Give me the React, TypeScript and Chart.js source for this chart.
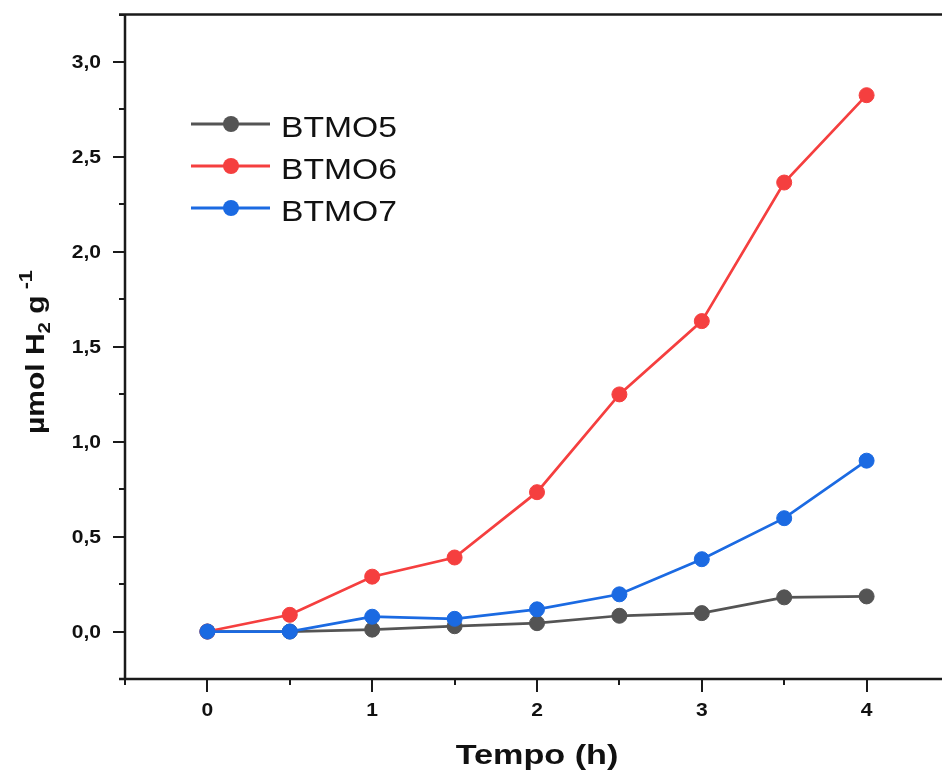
import React, { useEffect, useRef } from "react";
import { Chart, registerables } from "chart.js";

Chart.register(...registerables);

const timeH = [0, 0.5, 1, 1.5, 2, 2.5, 3, 3.5, 4];
const btmo5 = [0, 0, 0.01, 0.028, 0.044, 0.083, 0.097, 0.18, 0.185];
const btmo6 = [0, 0.088, 0.289, 0.39, 0.734, 1.249, 1.635, 2.365, 2.825];
const btmo7 = [0, 0, 0.078, 0.067, 0.117, 0.196, 0.381, 0.597, 0.9];
const seriesNames = ["BTMO5", "BTMO6", "BTMO7"];
const seriesColors = ["#545454", "#f53f3f", "#1b6ae2"];

const xMajor = [0, 1, 2, 3, 4];
const xMajorLabels = ["0", "1", "2", "3", "4"];
const xMinor = [-0.5, 0.5, 1.5, 2.5, 3.5, 4.5];
const yMajor = [0, 0.5, 1, 1.5, 2, 2.5, 3];
const yMajorLabels = ["0,0", "0,5", "1,0", "1,5", "2,0", "2,5", "3,0"];
const yMinor = [-0.25, 0.25, 0.75, 1.25, 1.75, 2.25, 2.75, 3.25];

const FONT = "'Liberation Sans', Arial, sans-serif";
const SX = 1.17;

function drawText(ctx: CanvasRenderingContext2D, s: string, x: number, y: number, font: string, align: CanvasTextAlign, sx = SX) {
  ctx.save();
  ctx.translate(x, y);
  ctx.scale(sx, 1);
  ctx.font = font;
  ctx.textAlign = align;
  ctx.textBaseline = "alphabetic";
  ctx.fillStyle = "#111";
  ctx.fillText(s, 0, 0);
  ctx.restore();
}

const framePlugin = {
  id: "frame",
  afterDatasetsDraw(chart: any) {
    const ctx: CanvasRenderingContext2D = chart.ctx;
    const { left, right, top, bottom } = chart.chartArea;
    const xs = chart.scales.x;
    const ys = chart.scales.y;
    ctx.save();
    ctx.strokeStyle = "#1a1a1a";
    ctx.lineWidth = 2.5;
    ctx.lineCap = "butt";
    ctx.beginPath();
    ctx.moveTo(left - 6, top);
    ctx.lineTo(right + 20, top);
    ctx.moveTo(left, top - 1);
    ctx.lineTo(left, bottom + 1);
    ctx.moveTo(left - 6, bottom);
    ctx.lineTo(right + 20, bottom);
    ctx.stroke();
    ctx.lineWidth = 2;
    ctx.beginPath();
    for (const v of yMajor) {
      const p = Math.round(ys.getPixelForValue(v));
      ctx.moveTo(left - 12, p);
      ctx.lineTo(left, p);
    }
    for (const v of yMinor) {
      const p = Math.round(ys.getPixelForValue(v));
      ctx.moveTo(left - 6, p);
      ctx.lineTo(left, p);
    }
    for (const v of xMajor) {
      const p = Math.round(xs.getPixelForValue(v));
      ctx.moveTo(p, bottom);
      ctx.lineTo(p, bottom + 13);
    }
    for (const v of xMinor) {
      const p = Math.round(xs.getPixelForValue(v));
      ctx.moveTo(p, bottom);
      ctx.lineTo(p, bottom + 6);
    }
    ctx.stroke();

    const tickFont = `bold 18px ${FONT}`;
    yMajor.forEach((v, i) => {
      const p = ys.getPixelForValue(v);
      drawText(ctx, yMajorLabels[i], 101, p + 6.5, tickFont, "right");
    });
    xMajor.forEach((v, i) => {
      const p = xs.getPixelForValue(v);
      drawText(ctx, xMajorLabels[i], p, bottom + 37, tickFont, "center");
    });

    // x title
    drawText(ctx, "Tempo (h)", (left + right) / 2, 764, `bold 28.5px ${FONT}`, "center", 1.2);

    // y title (rotated, with subscript / superscript)
    ctx.save();
    ctx.translate(44, 434);
    ctx.rotate(-Math.PI / 2);
    ctx.scale(1.2, 1);
    ctx.fillStyle = "#111";
    ctx.textBaseline = "alphabetic";
    ctx.textAlign = "left";
    const parts: [string, number, number][] = [
      ["µmol H", 25, 0],
      ["2", 17, 6],
      [" g", 25, 0],
      [" -1", 18, -12],
    ];
    let cx = 0;
    for (const [s, size, dy] of parts) {
      ctx.font = `bold ${size}px ${FONT}`;
      ctx.fillText(s, cx, dy);
      cx += ctx.measureText(s).width;
    }
    ctx.restore();

    // legend
    const rows = [124, 166, 208];
    chart.data.datasets.forEach((ds: any, i: number) => {
      const y = rows[i];
      ctx.save();
      ctx.strokeStyle = ds.borderColor;
      ctx.lineWidth = 3;
      ctx.beginPath();
      ctx.moveTo(191, y);
      ctx.lineTo(270, y);
      ctx.stroke();
      ctx.fillStyle = ds.backgroundColor;
      ctx.beginPath();
      ctx.arc(231, y, 8, 0, Math.PI * 2);
      ctx.fill();
      ctx.restore();
      drawText(ctx, ds.label, 281, y + 12.5, `29px ${FONT}`, "left", 1.16);
    });
    ctx.restore();
  },
};

export default function App() {
  const ref = useRef<HTMLCanvasElement | null>(null);
  useEffect(() => {
    if (!ref.current) return;
    const series = [btmo5, btmo6, btmo7];
    const orders = [3, 2, 1];
    const chart = new Chart(ref.current, {
      type: "line",
      data: {
        datasets: series.map((vals, i) => ({
          label: seriesNames[i],
          data: timeH.map((t, j) => ({ x: t, y: vals[j] })),
          borderColor: seriesColors[i],
          backgroundColor: seriesColors[i],
          pointBackgroundColor: seriesColors[i],
          pointBorderColor: seriesColors[i],
          pointRadius: 7.5,
          pointBorderWidth: 1,
          borderWidth: 2.7,
          tension: 0,
          order: orders[i],
        })),
      },
      options: {
        animation: false,
        responsive: false,
        devicePixelRatio: 1,
        layout: { padding: { left: 125, top: 14.5, right: 11, bottom: 97 } },
        plugins: { legend: { display: false }, tooltip: { enabled: false } },
        events: [],
        scales: {
          x: { type: "linear", min: -0.5, max: 4.5, display: false },
          y: { type: "linear", min: -0.25, max: 3.25, display: false },
        },
      },
      plugins: [framePlugin],
    });
    return () => chart.destroy();
  }, []);
  return (
    <div style={{ position: "fixed", left: 0, top: 0, width: 942, height: 776, overflow: "hidden", background: "#fff" }}>
      <canvas ref={ref} width={960} height={776} style={{ width: 960, height: 776, display: "block" }} />
    </div>
  );
}
